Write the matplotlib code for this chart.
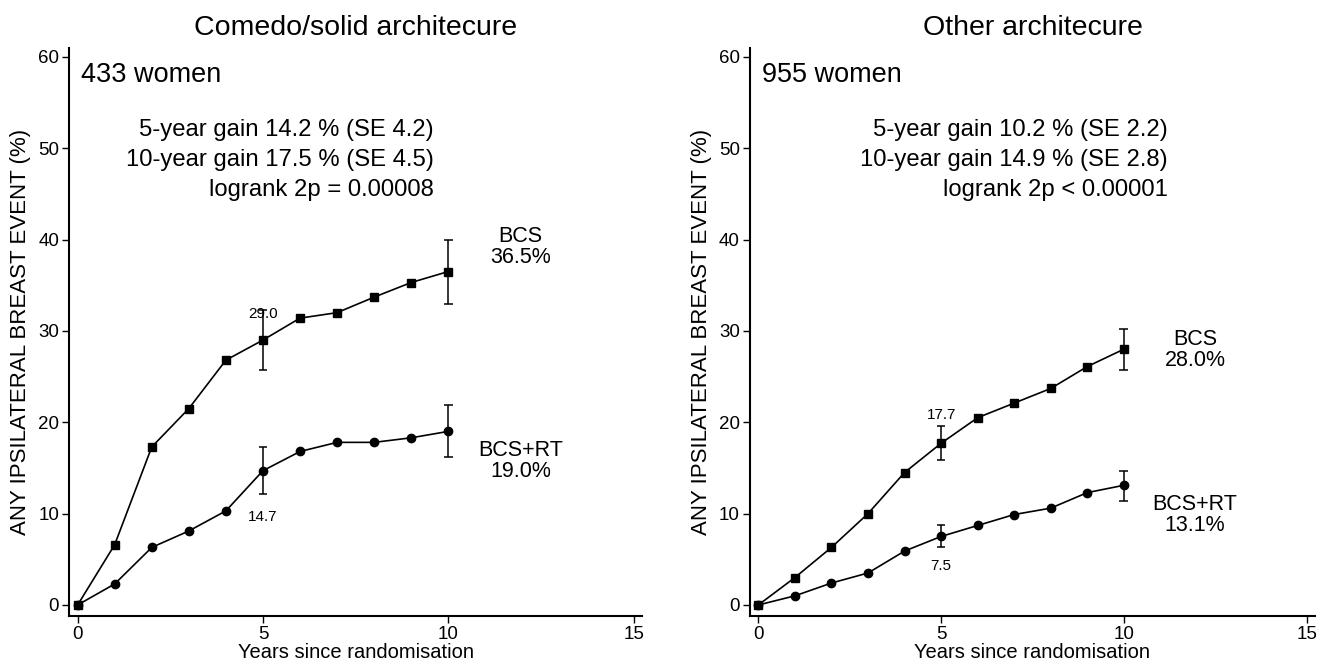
import matplotlib.pyplot as plt

plt.rcParams["font.family"] = ["Liberation Sans", "DejaVu Sans"]

years = [0, 1, 2, 3, 4, 5, 6, 7, 8, 9, 10]

# Comedo/solid architecture
left_bcs = [0, 6.6, 17.3, 21.5, 26.8, 29.0, 31.4, 32.0, 33.7, 35.3, 36.5]
left_rt = [0, 2.3, 6.3, 8.1, 10.3, 14.7, 16.8, 17.8, 17.8, 18.3, 19.0]
left_bcs_ci = {5: (25.7, 32.3), 10: (33.0, 40.0)}
left_rt_ci = {5: (12.2, 17.3), 10: (16.2, 21.9)}

# Other architecture
right_bcs = [0, 3.0, 6.3, 10.0, 14.5, 17.7, 20.5, 22.1, 23.7, 26.1, 28.0]
right_rt = [0, 1.0, 2.4, 3.5, 5.9, 7.5, 8.7, 9.9, 10.6, 12.3, 13.1]
right_bcs_ci = {5: (15.9, 19.6), 10: (25.7, 30.2)}
right_rt_ci = {5: (6.3, 8.7), 10: (11.4, 14.7)}

panels = [
    {
        "title": "Comedo/solid architecure",
        "women": "433 women",
        "stats": "5-year gain 14.2 % (SE 4.2)\n10-year gain 17.5 % (SE 4.5)\nlogrank 2p = 0.00008",
        "stats_x": 9.6,
        "bcs": left_bcs, "rt": left_rt,
        "bcs_ci": left_bcs_ci, "rt_ci": left_rt_ci,
        "bcs_label": ("BCS\n36.5%", 39.2),
        "rt_label": ("BCS+RT\n19.0%", 15.8),
        "bcs5_y": 31.9, "rt5_y": 9.6,
        "rect": [0.052, 0.071, 0.434, 0.857],
    },
    {
        "title": "Other architecure",
        "women": "955 women",
        "stats": "5-year gain 10.2 % (SE 2.2)\n10-year gain 14.9 % (SE 2.8)\nlogrank 2p < 0.00001",
        "stats_x": 11.2,
        "bcs": right_bcs, "rt": right_rt,
        "bcs_ci": right_bcs_ci, "rt_ci": right_rt_ci,
        "bcs_label": ("BCS\n28.0%", 27.9),
        "rt_label": ("BCS+RT\n13.1%", 9.8),
        "bcs5_y": 20.8, "rt5_y": 4.3,
        "rect": [0.567, 0.071, 0.428, 0.857],
    },
]

fig = plt.figure(figsize=(13.22, 6.63), dpi=100)

for p in panels:
    ax = fig.add_axes(p["rect"])
    ax.plot(years, p["bcs"], color="black", linewidth=1.2,
            marker="s", markersize=6, zorder=3)
    ax.plot(years, p["rt"], color="black", linewidth=1.2,
            marker="o", markersize=6, zorder=3)

    for ci in (p["bcs_ci"], p["rt_ci"]):
        for x, (lo, hi) in ci.items():
            ax.vlines(x, lo, hi, color="black", linewidth=1.1)
            ax.hlines([lo, hi], x - 0.12, x + 0.12, color="black", linewidth=1.1)

    ax.text(5, p["bcs5_y"], f"{p['bcs'][5]:.1f}", ha="center", va="center", fontsize=11)
    ax.text(5, p["rt5_y"], f"{p['rt'][5]:.1f}", ha="center", va="center", fontsize=11)

    ax.text(0.1, 58, p["women"], ha="left", va="center", fontsize=19.5)
    ax.text(p["stats_x"], 48.7, p["stats"], ha="right", va="center",
            fontsize=17.2, multialignment="right", linespacing=1.48)

    label, y = p["bcs_label"]
    ax.text(11.95, y, label, ha="center", va="center", fontsize=15.5, linespacing=1.0)
    label, y = p["rt_label"]
    ax.text(11.95, y, label, ha="center", va="center", fontsize=15.5, linespacing=1.0)

    ax.set_xlim(-0.24, 15.24)
    ax.set_ylim(-1.2, 61)
    ax.set_xticks([0, 5, 10, 15])
    ax.set_yticks([0, 10, 20, 30, 40, 50, 60])
    ax.spines["top"].set_visible(False)
    ax.spines["right"].set_visible(False)
    ax.spines["left"].set_linewidth(1.5)
    ax.spines["bottom"].set_linewidth(1.5)
    ax.tick_params(direction="out", length=5, width=1, labelsize=13.5, pad=2)
    ax.set_title(p["title"], fontsize=20.5, pad=9)
    ax.set_xlabel("Years since randomisation", fontsize=14.5, labelpad=0)
    ax.set_ylabel("ANY IPSILATERAL BREAST EVENT (%)", fontsize=16, labelpad=5)

fig.savefig("out.png", dpi=100)
plt.close(fig)
